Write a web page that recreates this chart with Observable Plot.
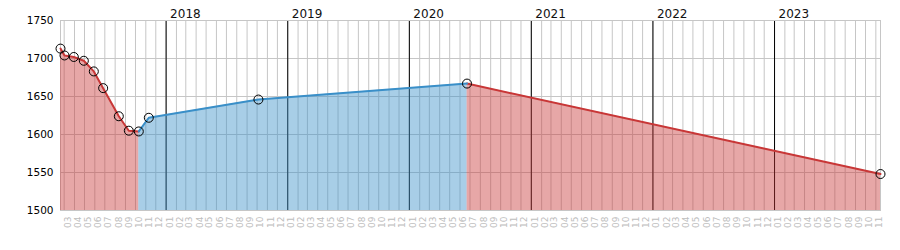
<!DOCTYPE html>
<html><head><meta charset="utf-8">
<script src="https://cdn.jsdelivr.net/npm/d3@7"></script>
<script src="https://cdn.jsdelivr.net/npm/@observablehq/plot@0.6"></script>
<style>html,body{margin:0;padding:0;background:#fff;}</style>
</head><body><div id="chart"></div>
<script>
// Data
const dates = ["2017-02-18","2017-03-02","2017-03-30","2017-04-29","2017-05-29","2017-06-26","2017-08-12","2017-09-11","2017-10-11","2017-11-10","2018-10-05","2020-06-22","2023-11-15"];
const values = [1713,1704,1702,1697,1683,1661,1624,1605,1604,1622,1646,1667,1548];
const yTicks = [1500,1550,1600,1650,1700,1750];
const monthTickFormat = "%m";
const yearTickFormat = "%Y";
const xDomain = ["2017-02-18","2023-11-15"];
const yDomain = [1500,1750];

const parse = d => new Date(d + "T00:00:00Z");
const pts = dates.map((d,i)=>({date: parse(d), value: values[i]}));
const rows = [];
let g = -1, prevDir = null;
for (let i = 0; i < pts.length - 1; i++) {
  const dir = pts[i+1].value > pts[i].value ? "up" : "down";
  if (dir !== prevDir) { g++; prevDir = dir; rows.push({...pts[i], g, dir}); }
  rows.push({...pts[i+1], g, dir});
}
const down = rows.filter(r => r.dir === "down");
const up = rows.filter(r => r.dir === "up");
const red = "#c83737", blue = "#3a8fc8", gridC = "#c6c6c6";

const chart = Plot.plot({
  width: 900, height: 250,
  marginLeft: 60, marginRight: 20, marginTop: 20, marginBottom: 40,
  style: {fontFamily: "'DejaVu Sans', sans-serif", background: "#fff", overflow: "visible"},
  x: {type: "utc", domain: xDomain.map(parse), label: null},
  y: {domain: yDomain, label: null},
  marks: [
    Plot.gridX({ticks: "month", stroke: gridC, strokeOpacity: 1}),
    Plot.gridY({ticks: yTicks, stroke: gridC, strokeOpacity: 1}),
    Plot.gridX({ticks: "year", stroke: "#000", strokeOpacity: 1}),
    Plot.frame({stroke: gridC}),
    Plot.areaY(down, {x: "date", y1: yDomain[0], y2: "value", z: "g", fill: red, fillOpacity: 0.44}),
    Plot.areaY(up, {x: "date", y1: yDomain[0], y2: "value", z: "g", fill: blue, fillOpacity: 0.44}),
    Plot.line(down, {x: "date", y: "value", z: "g", stroke: red, strokeWidth: 2}),
    Plot.line(up, {x: "date", y: "value", z: "g", stroke: blue, strokeWidth: 2}),
    Plot.dot(pts, {x: "date", y: "value", r: 4.5, stroke: "#000", fill: "none", strokeWidth: 1}),
    Plot.axisY({ticks: yTicks, tickFormat: "d", tickSize: 0, tickPadding: 7, fontSize: 10.5, color: "#000", label: null}),
    Plot.axisX({ticks: "month", tickFormat: monthTickFormat, tickRotate: -90, tickSize: 0, tickPadding: 6, dx: 3.5, fontSize: 9, color: "#bdbdbd", label: null}),
    Plot.axisX({anchor: "top", ticks: "year", tickFormat: yearTickFormat, tickSize: 0, tickPadding: 3, textAnchor: "start", dx: 4, fontSize: 12, fontWeight: 400, color: "#111", label: null})
  ]
});
document.getElementById("chart").appendChild(chart);
</script>
</body></html>
